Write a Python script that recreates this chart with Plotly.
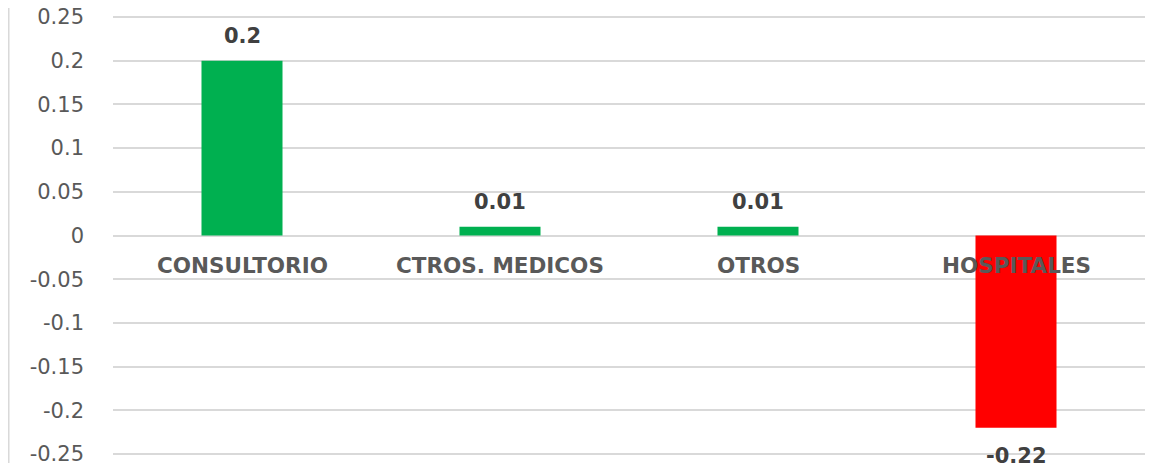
import plotly.graph_objects as go

categories = ["CONSULTORIO", "CTROS. MEDICOS", "OTROS", "HOSPITALES"]
values = [0.2, 0.01, 0.01, -0.22]
colors = ["#00B050", "#00B050", "#00B050", "#FF0000"]
tick_vals = [0.25, 0.2, 0.15, 0.1, 0.05, 0, -0.05, -0.1, -0.15, -0.2, -0.25]
tick_text = ["0.25", "0.2", "0.15", "0.1", "0.05", "0", "-0.05", "-0.1", "-0.15", "-0.2", "-0.25"]

FONT = "DejaVu Sans"

fig = go.Figure()
fig.add_trace(go.Bar(x=categories, y=values, marker=dict(color=colors, line=dict(width=0)),
                     width=0.314, hoverinfo="skip"))

annotations = []
for c, v in zip(categories, values):
    annotations.append(dict(x=c, y=v, xref="x", yref="y", text="<b>%g</b>" % v, showarrow=False,
                            yshift=25 if v >= 0 else -28,
                            font=dict(family=FONT, size=21, color="#404040")))
    annotations.append(dict(x=c, y=0, xref="x", yref="y", text="<b>%s</b>" % c, showarrow=False,
                            yshift=-30, font=dict(family=FONT, size=21.5, color="#595959")))

fig.update_layout(
    width=1150, height=455,
    margin=dict(l=105, r=13, t=7, b=7),
    paper_bgcolor="white", plot_bgcolor="white",
    showlegend=False,
    annotations=annotations,
    xaxis=dict(showticklabels=False, showgrid=False, zeroline=False, showline=False, range=[-0.5, 3.5],
               automargin=False),
    yaxis=dict(range=[-0.2522, 0.2522], tickvals=tick_vals, ticktext=tick_text, showgrid=True,
               gridcolor="#D9D9D9", gridwidth=1.5, zeroline=True, zerolinecolor="#D9D9D9", zerolinewidth=1.5,
               showline=False, ticks="", ticklabelstandoff=28, ticklabeloverflow="allow",
               automargin=False,
               tickfont=dict(family=FONT, size=21, color="#595959")),
    shapes=[dict(type="line", xref="paper", yref="paper", x0=-0.1010, x1=-0.1010,
                 y0=-7 / 441, y1=1 + 7 / 441, line=dict(color="#D9D9D9", width=1.5))],
)
fig.write_html("out.html")
